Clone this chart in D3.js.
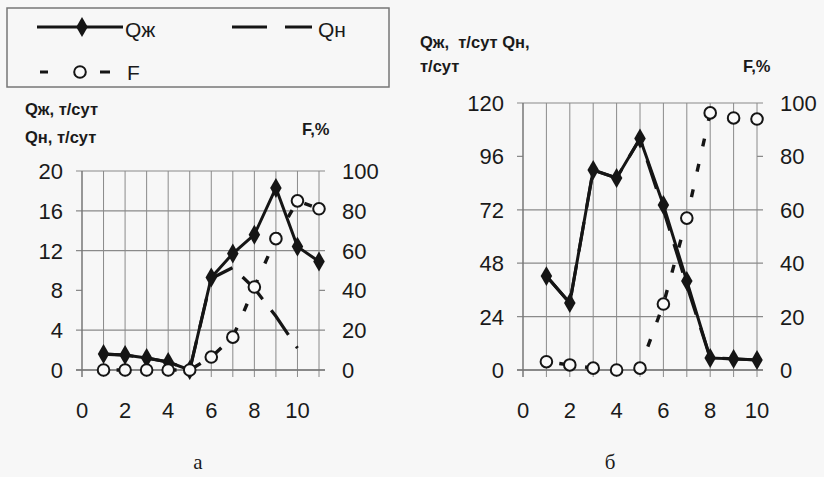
<!DOCTYPE html>
<html><head><meta charset="utf-8">
<script src="https://cdn.jsdelivr.net/npm/d3@7/dist/d3.min.js"></script>
<style>
html,body{margin:0;padding:0;background:#f7f7f7;}
svg{display:block;}
text{font-family:"Liberation Sans",Arial,sans-serif;fill:#1a1a1a;}
</style></head>
<body>
<svg id="c" width="824" height="477"></svg>
<script>
// ---- data ----
const xA = [1,2,3,4,5,6,7,8,9,10,11];
const qzA = [1.6,1.5,1.2,0.8,0,9.3,11.7,13.6,18.3,12.4,10.9];
const qnA = [1.6,1.5,1.2,0.8,0,9.2,10.3,8.2,5.4,2.2,null];
const fA  = [0,0,0,0,0,6.5,16.5,41.7,66,85,81];

const xB = [1,2,3,4,5,6,7,8,9,10];
const qzB = [42.2,30.1,89.9,86.3,104,74.2,40,5.4,5,4.5];
const qnB = [42.2,30.1,89.9,86.3,104,72,38,5.4,5,4.5];
const fB  = [3.1,1.9,0.7,0,0.7,24.7,56.9,96.3,94.4,94];

const xTicksA = [0,2,4,6,8,10];
const yTicksA = [0,4,8,12,16,20];
const fTicks  = [0,20,40,60,80,100];
const xTicksB = [0,2,4,6,8,10];
const yTicksB = [0,24,48,72,96,120];
const legendLabels = ["Qж","Qн","F"];
const panelLabels = ["а","б"];

const svg = d3.select("#c");
const ink = "#151515";

function panel(cfg){
  const g = svg.append("g");
  const x = d3.scaleLinear().domain(cfg.xDom).range(cfg.xRange);
  const y = d3.scaleLinear().domain(cfg.yDom).range([370, cfg.top]);
  const yf = d3.scaleLinear().domain([0,100]).range([370, cfg.top]);
  const [x0,x1] = cfg.xRange;
  g.selectAll(".vg").data(d3.range(cfg.xDom[0]+1, cfg.xDom[1]+1)).join("line")
    .attr("x1",d=>x(d)).attr("x2",d=>x(d)).attr("y1",cfg.top).attr("y2",377)
    .attr("stroke","#8a8a8a").attr("stroke-width",1);
  g.selectAll(".hg").data(cfg.yTicks).join("line")
    .attr("x1",x0-6).attr("x2",x1+6).attr("y1",d=>y(d)).attr("y2",d=>y(d))
    .attr("stroke","#8a8a8a").attr("stroke-width",1.2)
    .attr("stroke-dasharray",d=>cfg.faint.includes(d)?"6,"+(x1-x0)+",12":null);
  g.append("line").attr("x1",x0).attr("x2",x0).attr("y1",cfg.top).attr("y2",377).attr("stroke","#777").attr("stroke-width",1.5);
  g.append("line").attr("x1",x0-6).attr("x2",x1+6).attr("y1",370).attr("y2",370).attr("stroke","#777").attr("stroke-width",1.5);
  g.selectAll(".yl").data(cfg.yTicks).join("text")
    .attr("x",x0-19).attr("y",d=>y(d)).attr("dy","0.36em").attr("text-anchor","end")
    .attr("font-size",22).text(d=>d);
  g.selectAll(".fl").data(fTicks).join("text")
    .attr("x",x1+23).attr("y",d=>yf(d)).attr("dy","0.36em").attr("text-anchor","start")
    .attr("font-size",22).text(d=>d);
  g.selectAll(".xl").data(cfg.xTicks).join("text")
    .attr("x",d=>x(d)).attr("y",418).attr("text-anchor","middle")
    .attr("font-size",22).text(d=>d);
  const lineQ = d3.line().defined(d=>d[1]!=null).x(d=>x(d[0])).y(d=>y(d[1]));
  g.append("path").attr("d",lineQ(cfg.xs.map((d,i)=>[d,cfg.qn[i]])))
    .attr("fill","none").attr("stroke",ink).attr("stroke-width",3.2)
    .attr("stroke-dasharray","30,14");
  g.append("path").attr("d",lineQ(cfg.xs.map((d,i)=>[d,cfg.qz[i]])))
    .attr("fill","none").attr("stroke",ink).attr("stroke-width",3);
  g.selectAll(".dm").data(cfg.xs.map((d,i)=>[d,cfg.qz[i]])).join("path")
    .attr("d",d3.symbol(d3.symbolDiamond,115))
    .attr("transform",d=>`translate(${x(d[0])},${y(d[1])})`).attr("fill",ink);
  const lineF = d3.line().x(d=>x(d[0])).y(d=>yf(d[1]));
  g.append("path").attr("d",lineF(cfg.xs.map((d,i)=>[d,cfg.f[i]])))
    .attr("fill","none").attr("stroke",ink).attr("stroke-width",3.4)
    .attr("stroke-dasharray","8,18").attr("stroke-dashoffset",-13);
  g.selectAll(".ci").data(cfg.xs.map((d,i)=>[d,cfg.f[i]])).join("circle")
    .attr("cx",d=>x(d[0])).attr("cy",d=>yf(d[1])).attr("r",5.8)
    .attr("fill","#fafafa").attr("stroke",ink).attr("stroke-width",2);
}

panel({xDom:[0,11], xRange:[82,319], yDom:[0,20], top:171,
  yTicks:yTicksA, xTicks:xTicksA, xs:xA, qz:qzA, qn:qnA, f:fA, faint:[8]});
panel({xDom:[0,10], xRange:[523,757], yDom:[0,120], top:103,
  yTicks:yTicksB, xTicks:xTicksB, xs:xB, qz:qzB, qn:qnB, f:fB, faint:[96]});

const bold = {"font-size":16.5,"font-weight":"bold"};
function t(x,y,s,o){const e=svg.append("text").attr("x",x).attr("y",y).text(s);
  Object.entries(o).forEach(([k,v])=>e.attr(k,v)); return e;}
t(25,115,"Qж, т/сут",bold);
t(25,143,"Qн, т/сут",bold);
t(302,135,"F,%",bold);
t(420,48,"Qж,  т/сут Qн,",bold).style("white-space","pre");
t(420,72,"т/сут",bold);
t(743,72,"F,%",bold);

svg.selectAll(".pl").data(panelLabels).join("text")
  .attr("x",(d,i)=>[198,610][i]).attr("y",469).attr("text-anchor","middle")
  .attr("font-size",21).style("font-family","'Liberation Serif','Times New Roman',serif")
  .text(d=>d);

const lg = svg.append("g");
lg.append("rect").attr("x",7).attr("y",8).attr("width",382).attr("height",79)
  .attr("fill","none").attr("stroke","#777").attr("stroke-width",1.5);
lg.append("line").attr("x1",37).attr("x2",123).attr("y1",27).attr("y2",27).attr("stroke",ink).attr("stroke-width",3);
lg.append("path").attr("d",d3.symbol(d3.symbolDiamond,115)).attr("transform","translate(82,27)").attr("fill",ink);
lg.append("line").attr("x1",232).attr("x2",312).attr("y1",27).attr("y2",27).attr("stroke",ink).attr("stroke-width",3.2).attr("stroke-dasharray","35,18");
lg.append("line").attr("x1",40).attr("x2",110).attr("y1",72).attr("y2",72).attr("stroke",ink).attr("stroke-width",3.2).attr("stroke-dasharray","8,52,10");
lg.append("circle").attr("cx",80).attr("cy",72).attr("r",5.8).attr("fill","#fafafa").attr("stroke",ink).attr("stroke-width",2);
lg.selectAll(".lt").data(legendLabels).join("text")
  .attr("x",(d,i)=>[125,318,127][i]).attr("y",(d,i)=>[37,37,80][i])
  .attr("font-size",21).text(d=>d);
</script>
</body></html>
